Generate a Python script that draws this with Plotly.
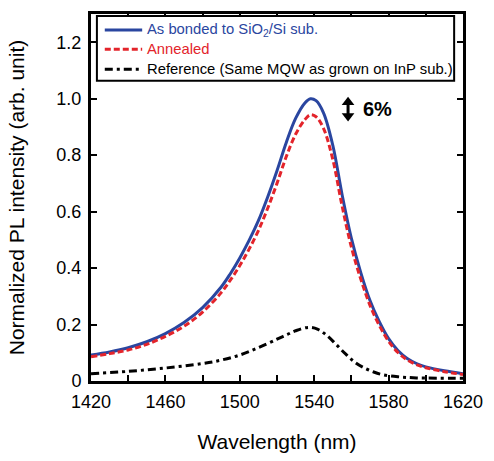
import plotly.graph_objects as go

# Wavelength (nm) and normalized PL intensity
wl_bonded = [1420, 1430, 1440, 1450, 1460, 1470, 1480, 1490, 1495, 1500, 1505, 1510, 1515, 1520,
             1525, 1530, 1535, 1538, 1541, 1545, 1550, 1555, 1560, 1565, 1570, 1575, 1580,
             1585, 1590, 1595, 1600, 1610, 1620]
pl_bonded = [0.092, 0.103, 0.118, 0.139, 0.168, 0.207, 0.260, 0.333, 0.381, 0.436, 0.498, 0.568,
             0.652, 0.745, 0.845, 0.930, 0.985, 1.000, 0.993, 0.950, 0.835, 0.660, 0.505,
             0.385, 0.285, 0.210, 0.150, 0.108, 0.080, 0.062, 0.050, 0.036, 0.026]

wl_annealed = wl_bonded
pl_annealed = [0.086, 0.097, 0.110, 0.130, 0.158, 0.194, 0.244, 0.313, 0.358, 0.409, 0.467, 0.533,
               0.612, 0.700, 0.795, 0.874, 0.926, 0.943, 0.936, 0.895, 0.785, 0.620, 0.474,
               0.362, 0.268, 0.197, 0.141, 0.101, 0.075, 0.058, 0.047, 0.033, 0.023]

wl_ref = [1420, 1440, 1460, 1480, 1490, 1500, 1510, 1520, 1525, 1530, 1537, 1542, 1547, 1552,
          1557, 1562, 1567, 1572, 1577, 1585, 1595, 1620]
pl_ref = [0.026, 0.034, 0.046, 0.062, 0.074, 0.092, 0.118, 0.148, 0.163, 0.178, 0.190, 0.183,
          0.160, 0.128, 0.095, 0.066, 0.046, 0.032, 0.022, 0.015, 0.011, 0.010]

# 6 % double arrow (wavelength, intensity of the two heads) and its label
arrow_wl = [1558.2, 1558.2]
arrow_pl = [0.987, 0.939]
label_wl = 1565
label_pl = 0.963
label_text = "<b>6%</b>"

series_names = ["As bonded to SiO<sub>2</sub>/Si sub.", "Annealed",
                "Reference (Same MQW as grown on InP sub.)"]

x_ticks = [1420, 1460, 1500, 1540, 1580, 1620]
x_minor = [1440, 1480, 1520, 1560, 1600]
y_ticks = [0, 0.2, 0.4, 0.6, 0.8, 1.0, 1.2]
y_ticktext = ["0", "0.2", "0.4", "0.6", "0.8", "1.0", "1.2"]

BLUE = "#2a46a0"
RED = "#e3242b"
FONT = "Liberation Sans, Arial, sans-serif"
colors = [BLUE, RED, "black"]
dashes = ["solid", "6px,3px", "8px,4px,3px,4px"]

fig = go.Figure()
for wl, pl, nm, c, d in zip([wl_bonded, wl_annealed, wl_ref], [pl_bonded, pl_annealed, pl_ref],
                            series_names, colors, dashes):
    fig.add_trace(go.Scatter(x=wl, y=pl, mode="lines", name=nm, showlegend=False,
                             line=dict(color=c, width=3, dash=d, shape="spline")))

fig.add_trace(go.Scatter(x=arrow_wl, y=arrow_pl, mode="lines+markers", showlegend=False,
                         hoverinfo="skip",
                         line=dict(color="black", width=3),
                         marker=dict(symbol=["triangle-up", "triangle-down"], size=11,
                                     color="black", line=dict(width=0))))
fig.add_annotation(x=label_wl, y=label_pl, xref="x", yref="y", text=label_text, showarrow=False,
                   xanchor="left", yanchor="middle", font=dict(size=20, color="black", family=FONT))

# Legend drawn as a box with line samples and coloured texts (paper coordinates)
L, R, T, B = 91, 25, 11, 71
W, H = 494 - L - R, 461 - T - B
px = lambda v: (v - L) / W
py = lambda v: (461 - B - v) / H

fig.add_shape(type="rect", xref="paper", yref="paper", x0=px(97), x1=px(460), y0=py(80), y1=py(13),
              line=dict(color="black", width=2), fillcolor="white", layer="above")
rows = [27.5, 47.5, 68]
for r, nm, c, d in zip(rows, series_names, colors, dashes):
    fig.add_shape(type="line", xref="paper", yref="paper", x0=px(105), x1=px(143), y0=py(r), y1=py(r),
                  line=dict(color=c, width=3, dash=d), layer="above")
    fig.add_annotation(x=px(146), y=py(r), xref="paper", yref="paper", text=nm, showarrow=False,
                       xanchor="left", yanchor="middle",
                       font=dict(size=14.8, color=c, family=FONT))

fig.update_layout(
    width=494, height=461,
    margin=dict(l=L, r=R, t=T, b=B),
    paper_bgcolor="white", plot_bgcolor="white",
    font=dict(family=FONT, color="black", size=18),
    showlegend=False,
    xaxis=dict(range=[1420, 1620], tickvals=x_ticks, ticks="inside", ticklen=6, tickwidth=1.5,
               tickcolor="black", showline=True, linewidth=3, linecolor="black", mirror="ticks",
               showgrid=False, zeroline=False, tickfont=dict(size=18), ticklabelstandoff=2,
               minor=dict(tickvals=x_minor, ticks="inside", ticklen=6, tickwidth=1.5,
                          tickcolor="black", showgrid=False),
               title=dict(text="Wavelength (nm)", font=dict(size=21), standoff=24)),
    yaxis=dict(range=[0, 1.3], tickvals=y_ticks, ticktext=y_ticktext, ticks="inside", ticklen=6,
               tickwidth=1.5, tickcolor="black", showline=True, linewidth=3, linecolor="black",
               mirror="ticks", showgrid=False, zeroline=False, tickfont=dict(size=18),
               ticklabelstandoff=3,
               title=dict(text="Normalized PL intensity (arb. unit)", font=dict(size=21), standoff=27)),
)

fig.write_html("out.html")
